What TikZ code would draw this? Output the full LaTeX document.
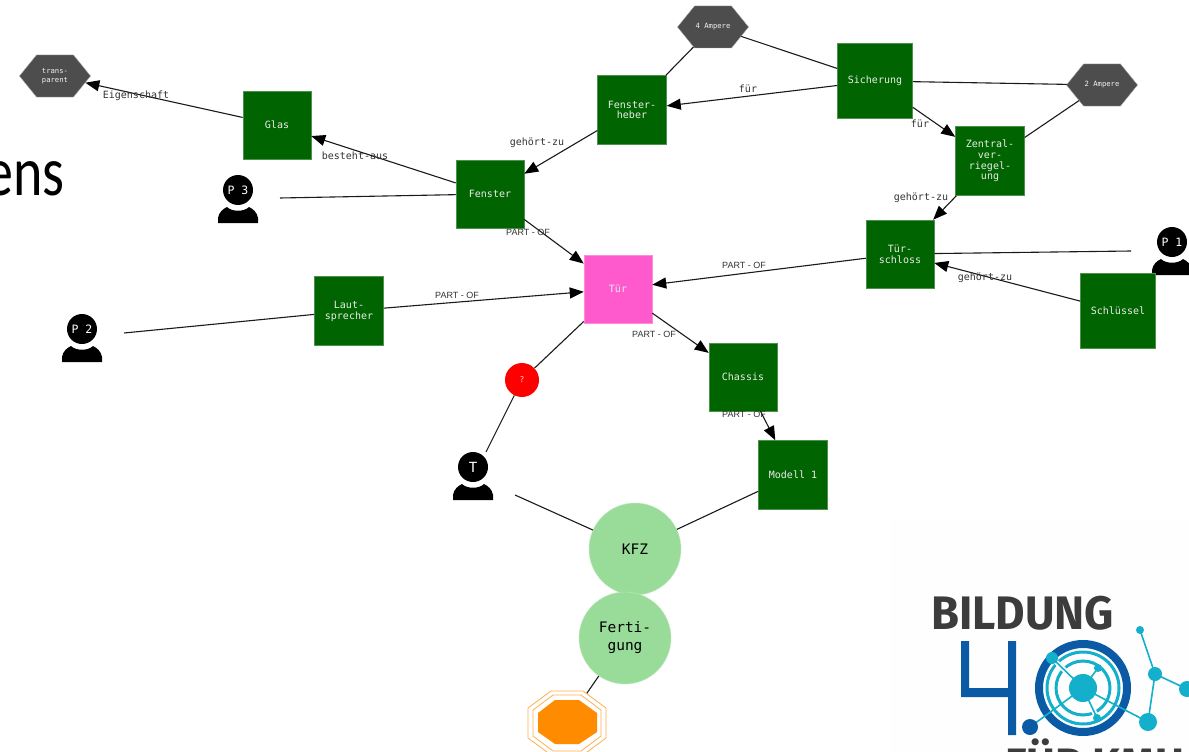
\documentclass[tikz,border=0pt]{standalone}
\usepackage{fontspec}
\setmainfont{Carlito}
\newfontfamily\monof{DejaVu Sans Mono}
\newfontfamily\logof{Fira Sans}
\newfontfamily\partf{Liberation Sans}
\usetikzlibrary{arrows.meta,shapes.symbols,shapes.geometric}
\definecolor{gruen}{HTML}{006400}
\definecolor{hellgruen}{HTML}{99DC99}
\definecolor{pinkt}{HTML}{FF5ACD}
\definecolor{grauhex}{HTML}{4D4D4D}
\definecolor{orangeo}{HTML}{FF8C00}
\definecolor{logoblau}{HTML}{0B5AA5}
\definecolor{logoteal}{HTML}{13AFCB}
\definecolor{logograu}{HTML}{3C3C3C}
\definecolor{linie}{HTML}{1A1A1A}
\definecolor{labelg}{HTML}{333333}
\tikzset{
  x=1pt,y=-1pt,
  sq/.style={rectangle,fill=gruen,draw=gruen!70!white,line width=.5pt,minimum width=#1,minimum height=#1,inner sep=0pt,align=center,text=white!85!gray,font=\monof\fontsize{10}{10.8}\selectfont},
  sq/.default=68pt,
  hexa/.style={signal,signal to=east and west,signal pointer angle=102,fill=grauhex,draw=gray!70,line width=.4pt,minimum width=71pt,minimum height=42pt,inner sep=0pt,align=center,text=white!90!gray,font=\monof\fontsize{7.2}{8.5}\selectfont},
  kreis/.style={circle,fill=hellgruen,draw=hellgruen!60!white,line width=.4pt,minimum size=92pt,inner sep=0pt,align=center,text=black,font=\monof\fontsize{14.5}{18}\selectfont},
  kopf/.style={circle,fill=black,minimum size=30pt,inner sep=0pt,text=white,font=\monof\fontsize{11.5}{12}\selectfont},
  koerper/.style={fill=black},
  verb/.style={draw=linie,line width=1.1pt},
  pfeil/.style={verb,-{Triangle[length=14pt,width=11pt,color=black]}},
  lab/.style={inner sep=0pt,text=labelg,font=\monof\fontsize{10}{11}\selectfont},
  partlab/.style={inner sep=0pt,text=labelg,font=\partf\fontsize{9}{11}\selectfont},
  logoring/.style={draw=logoteal,line width=3pt},
  logohalo/.style={draw=white,line width=5pt},
  logolinie/.style={draw=logoteal,line width=1.6pt},
  logopunkt/.style={fill=logoteal},
  achteck/.style={draw=orangeo!70!white,line width=.8pt,fill=white},
}
\newcommand{\koerperform}[2]{%
  \fill[koerper] (#1-20,#2+33) -- (#1-20,#2+28) .. controls (#1-19,#2+22) and (#1-15,#2+19) .. (#1-11,#2+17)
   .. controls (#1-6,#2+22) and (#1+6,#2+22) .. (#1+11,#2+17)
   .. controls (#1+15,#2+19) and (#1+19,#2+22) .. (#1+20,#2+28) -- (#1+20,#2+33) -- cycle;}
\begin{document}
\begin{tikzpicture}
\useasboundingbox (0,0) rectangle (1189,752);
\clip (0,0) rectangle (1189,752);
\fill[white] (0,0) rectangle (1189,752);
\fill[white!99.5!black] (890,520) rectangle (1189,752);
% Title fragment
\node[anchor=base east,inner sep=0pt,font=\fontsize{70}{74}\selectfont,text=black] (titel) at (65,195) {\scalebox{.8}[1]{ens}};
% Nodes
\node[hexa] (vierA) at (713,27) {4 Ampere};
\node[hexa] (zweiA) at (1102,85) {2 Ampere};
\node[hexa] (transp) at (55,76) {trans-\\parent};
\node[sq=69pt] (heber) at (632,110) {Fenster-\\heber};
\node[sq=75pt] (sich) at (875,81) {Sicherung};
\node[sq=69pt] (zentral) at (990,161) {Zentral-\\ver-\\riegel-\\ung};
\node[sq=68pt] (schloss) at (900,254) {Tür-\\schloss};
\node[sq=68pt] (glas) at (277,125) {Glas};
\node[sq=68pt] (fenster) at (490,194) {Fenster};
\node[sq=68pt,fill=pinkt,draw=pinkt!70!white] (tuer) at (618,289) {Tür};
\node[sq=69pt] (laut) at (349,311) {Laut-\\sprecher};
\node[sq=68pt] (chassis) at (743,377) {Chassis};
\node[sq=69pt] (modell) at (793,475) {Modell 1};
\node[circle,fill=red,minimum size=34pt,inner sep=0pt,text=white!85!red,font=\monof\fontsize{8}{9}\selectfont] (frage) at (522,380) {?};
\node[kreis] (kfz) at (635,549) {KFZ};
\node[kreis] (fert) at (625,638) {Ferti-\\gung};
% Persons
\koerperform{238}{190}
\node[kopf] (pdrei) at (238,190) {P 3};
\koerperform{82}{329}
\node[kopf] (pzwei) at (82,329) {P 2};
\koerperform{1172}{242}
\node[kopf] (peins) at (1172,242) {P 1};
\koerperform{473}{467}
\node[kopf,font=\monof\fontsize{14}{16}\selectfont] (pt) at (473,467) {T};
\node[sq=75pt] (schluessel) at (1118,311) {Schlüssel};
% free ends
\coordinate (epdrei) at (280,198);
\coordinate (epzwei) at (124,333);
\coordinate (epeins) at (1131,251);
\coordinate (eptk) at (515,495);
\coordinate (eptf) at (486,452);
\coordinate (oct) at (567,722);
% Connectors
\draw[verb] (vierA) -- (heber);
\draw[verb] (vierA) -- (sich);
\draw[pfeil] (sich) -- (heber);
\draw[verb] (sich) -- (zweiA);
\draw[pfeil] (sich) -- (zentral);
\draw[verb] (zweiA) -- (zentral);
\draw[pfeil] (zentral) -- (schloss);
\draw[pfeil] (schluessel) -- (schloss);
\draw[verb] (epeins) -- (schloss);
\draw[pfeil] (schloss) -- (tuer);
\draw[pfeil] (heber) -- (fenster);
\draw[pfeil] (fenster) -- (glas);
\draw[pfeil] (glas) -- (transp);
\draw[verb] (epdrei) -- (fenster);
\draw[pfeil] (fenster) -- (tuer);
\draw[verb] (epzwei) -- (laut);
\draw[pfeil] (laut) -- (tuer);
\draw[pfeil] (tuer) -- (chassis);
\draw[pfeil] (chassis) -- (modell);
\draw[verb] (tuer) -- (frage);
\draw[verb] (frage) -- (eptf);
\draw[verb] (eptk) -- (kfz);
\draw[verb] (modell) -- (kfz);
\draw[verb] (fert) -- (oct);
% Octagon
\draw[achteck] (551,691) -- (583,691) -- (606,708) -- (606,738) -- (583,755) -- (551,755) -- (528,738) -- (528,708) -- cycle;
\draw[achteck] (553,695) -- (581,695) -- (601,710) -- (601,736) -- (581,751) -- (553,751) -- (533,736) -- (533,710) -- cycle;
\fill[orangeo] (555,700) -- (579,700) -- (597,713) -- (597,732) -- (579,744) -- (555,744) -- (538,732) -- (538,713) -- cycle;
% Labels
\node[lab] (l1) at (748,89) {für};
\node[lab] (l2) at (537,143) {gehört-zu};
\node[lab] (l3) at (355,156) {besteht-aus};
\node[lab] (l4) at (136,96) {Eigenschaft};
\node[partlab] (l5) at (528,232) {PART - OF};
\node[lab] (l6) at (920,124) {für};
\node[lab] (l7) at (921,198) {gehört-zu};
\node[lab] (l8) at (985,278) {gehört-zu};
\node[partlab] (l9) at (744,265) {PART - OF};
\node[partlab] (l10) at (457,295) {PART - OF};
\node[partlab] (l11) at (654,334) {PART - OF};
\node[partlab] (l12) at (744,414) {PART - OF};
% Logo
\node[anchor=base west,inner sep=0pt,text=logograu,font=\logof\bfseries\fontsize{47}{50}\selectfont] (bildung) at (931,629) {\scalebox{.965}[1]{BILDUNG}};
\node[anchor=base west,inner sep=0pt,text=logograu,font=\logof\bfseries\fontsize{44}{46}\selectfont] (kmu) at (1005,779) {FÜR KMU};
\fill[logoblau] (961,641) -- (969,641) -- (969,688) -- (1008,688) -- (1008,641) -- (1016,641) -- (1016,735) -- (1008,735) -- (1008,697) -- (961,697) -- cycle;
\draw[logoblau,line width=8pt] (1083,688) circle[radius=44];
\draw[logoring] (1083,688) circle[radius=36];
\draw[logoring] (1083,688) circle[radius=27];
\draw[logohalo] (1083,688) -- (1052,658);
\draw[logohalo] (1083,688) -- (1098,668);
\draw[logohalo] (1083,688) -- (1097,718);
\draw[logolinie] (1083,688) -- (1052,658);
\draw[logolinie] (1083,688) -- (1098,668);
\draw[logolinie] (1083,688) -- (1097,718);
\draw[logolinie] (1083,688) -- (1030,727);
\draw[logolinie] (1083,688) -- (1148,722);
\draw[logolinie] (1148,722) -- (1155,674) -- (1140,630);
\draw[logolinie] (1155,674) -- (1187,689);
\fill[logopunkt] (1083,688) circle[radius=14];
\fill[logopunkt] (1052,658) circle[radius=6];
\fill[logopunkt] (1098,668) circle[radius=4];
\fill[logopunkt] (1097,718) circle[radius=4];
\fill[logopunkt] (1148,722) circle[radius=9];
\fill[logopunkt] (1155,674) circle[radius=7];
\fill[logopunkt] (1140,630) circle[radius=4];
\fill[logopunkt] (1187,689) circle[radius=8];
\fill[logoblau] (1030,727) circle[radius=8];
\end{tikzpicture}
\end{document}
